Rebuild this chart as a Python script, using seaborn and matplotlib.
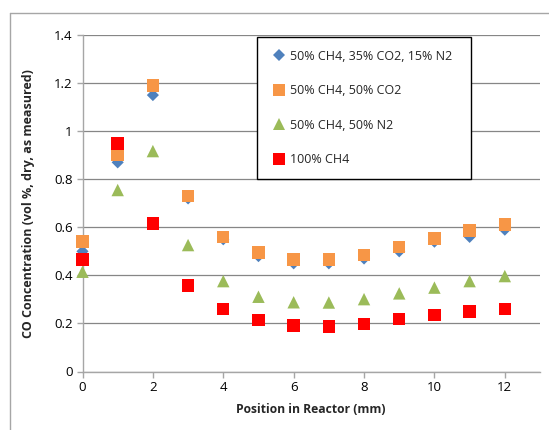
import matplotlib
matplotlib.use("Agg")
import matplotlib.pyplot as plt
import seaborn as sns
import pandas as pd
from matplotlib.lines import Line2D

positions = list(range(13))
s1_label = "50% CH4, 35% CO2, 15% N2"
s2_label = "50% CH4, 50% CO2"
s3_label = "50% CH4, 50% N2"
s4_label = "100% CH4"
s1 = [0.50, 0.87, 1.15, 0.72, 0.55, 0.48, 0.45, 0.45, 0.47, 0.50, 0.54, 0.56, 0.59]
s2 = [0.54, 0.90, 1.19, 0.73, 0.56, 0.495, 0.466, 0.466, 0.484, 0.519, 0.554, 0.586, 0.612]
s3 = [0.415, 0.755, 0.917, 0.526, 0.376, 0.311, 0.288, 0.287, 0.301, 0.325, 0.349, 0.376, 0.397]
s4 = [0.466, 0.949, 0.616, 0.357, 0.259, 0.214, 0.192, 0.188, 0.197, 0.218, 0.235, 0.249, 0.26]
y_ticks = [0, 0.2, 0.4, 0.6, 0.8, 1.0, 1.2, 1.4]
y_tick_labels = ["0", "0.2", "0.4", "0.6", "0.8", "1", "1.2", "1.4"]
x_ticks = [0, 2, 4, 6, 8, 10, 12]

labels = [s1_label, s2_label, s3_label, s4_label]
series = [s1, s2, s3, s4]
colors = ["#4F81BD", "#F79646", "#9BBB59", "#FF0000"]
markers = ["D", "s", "^", "s"]
sizes = [38, 80, 80, 80]

df = pd.concat([pd.DataFrame({"x": positions, "y": v, "s": lab}) for lab, v in zip(labels, series)])

sns.set_theme(style="white")
plt.rcParams["font.family"] = ["Open Sans", "DejaVu Sans"]

fig = plt.figure(figsize=(5.49, 4.30), dpi=100)
ax = fig.add_axes([82.5/549, 1-371.5/430, (540-82.5)/549, (371.5-35)/430])

for lab, c, m, sz in zip(labels, colors, markers, sizes):
    sub = df[df["s"] == lab]
    sns.scatterplot(data=sub, x="x", y="y", ax=ax, color=c, marker=m, s=sz,
                    edgecolor="none", linewidth=0, legend=False, zorder=3, clip_on=False)

ax.set_xlim(0, 13)
ax.set_ylim(0, 1.4)
ax.set_yticks(y_ticks)
ax.set_yticklabels(y_tick_labels)
ax.set_xticks(x_ticks)
ax.set_xticklabels([str(t) for t in x_ticks])
ax.yaxis.grid(True, color="#868686", linewidth=0.9)
ax.xaxis.grid(False)
ax.set_axisbelow(True)
for sp in ["top", "right"]:
    ax.spines[sp].set_visible(False)
for sp in ["left", "bottom"]:
    ax.spines[sp].set_color("#A6A6A6")
    ax.spines[sp].set_linewidth(1.0)
ax.tick_params(axis="both", which="major", labelsize=9.5, colors="#000000", length=4,
               width=1, direction="out", pad=3)
ax.tick_params(axis="x", color="#A6A6A6", bottom=True)
ax.tick_params(axis="y", color="#A6A6A6", left=True)
ax.set_xlabel("Position in Reactor (mm)", fontsize=8.75, fontweight="bold", labelpad=6)
ax.set_ylabel("CO Concentration (vol %, dry, as measured)", fontsize=9, fontweight="bold", labelpad=14)

handles = [Line2D([], [], linestyle="none", marker=m, color=c, markersize=ms, markeredgewidth=0)
           for c, m, ms in zip(colors, markers, [6, 8, 8, 8])]
leg = ax.legend(handles, labels, loc="upper left", bbox_to_anchor=(0.381, 0.575, 0.468, 0.419),
                mode="expand", frameon=True, fancybox=False, fontsize=9, labelspacing=1.72,
                handlelength=1.5, handletextpad=0.15, borderpad=1.0, borderaxespad=0)
leg.get_frame().set_edgecolor("black")
leg.get_frame().set_linewidth(1.0)
leg.get_frame().set_alpha(1)

# outer chart border
fig.add_artist(Line2D([9.5/549, 9.5/549], [0, 1-13/430], transform=fig.transFigure, color="#A6A6A6", lw=1))
fig.add_artist(Line2D([9.5/549, 1], [1-13/430, 1-13/430], transform=fig.transFigure, color="#A6A6A6", lw=1))

fig.savefig("out.png", dpi=100)
